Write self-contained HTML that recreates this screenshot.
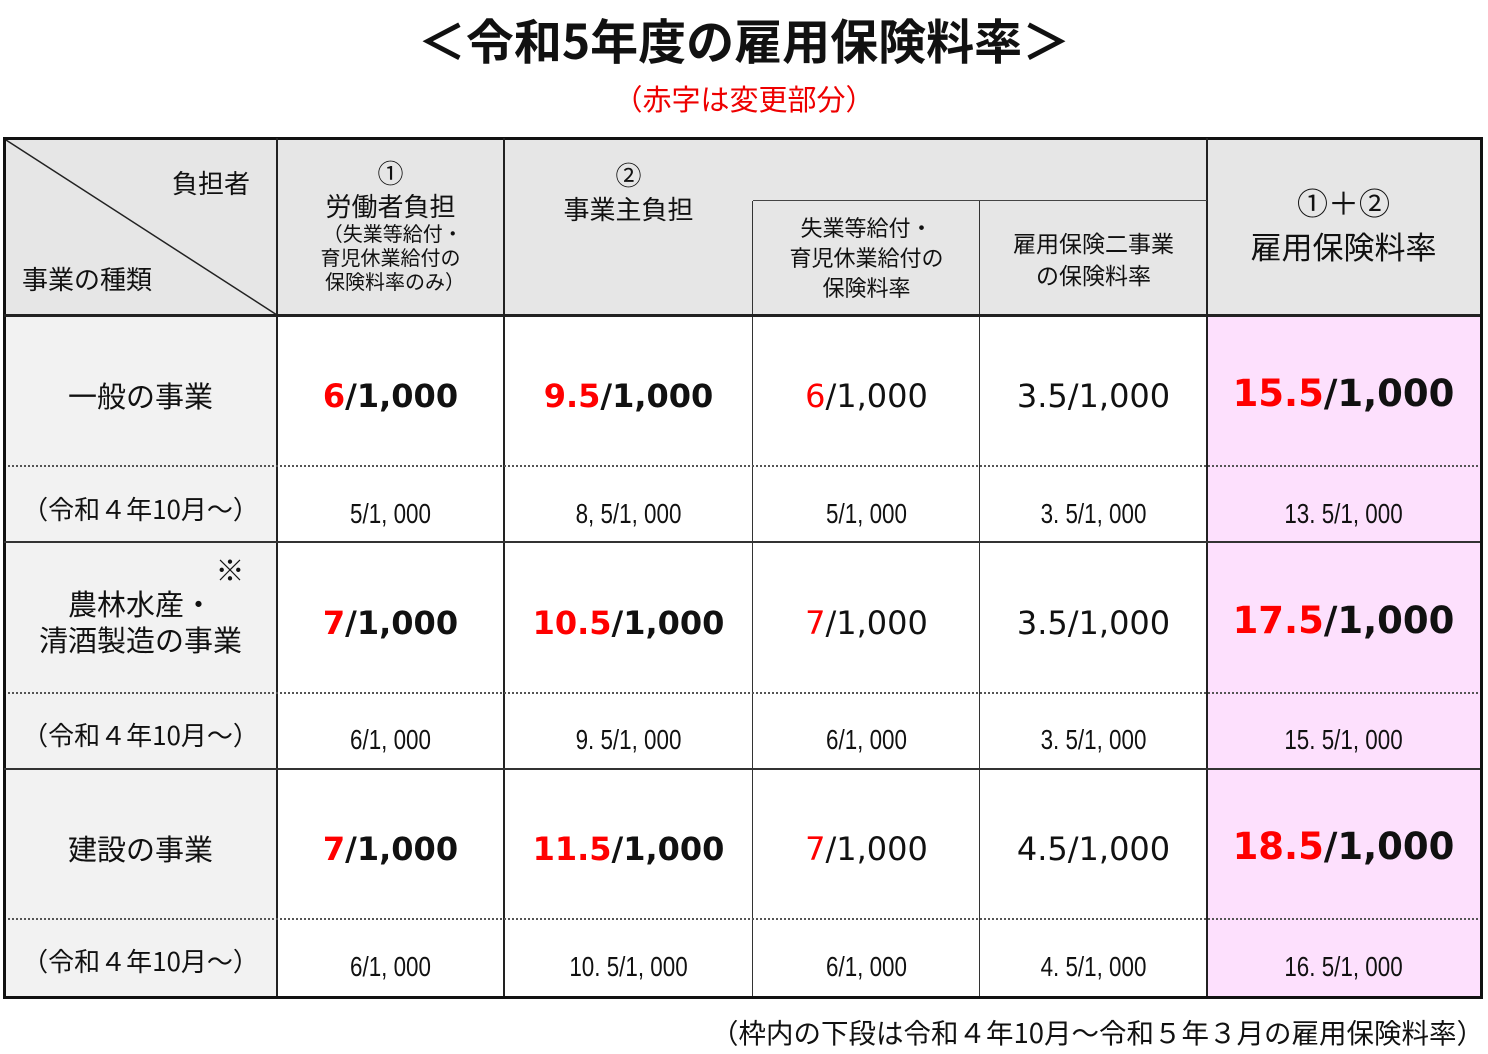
<!DOCTYPE html>
<html><head><meta charset="utf-8"><style>
body{margin:0;width:1488px;height:1054px;background:#fff;position:relative;overflow:hidden;font-family:"Liberation Sans","Noto Sans CJK JP",sans-serif;color:#111}
.a{position:absolute}
.t{position:absolute;text-align:center;white-space:nowrap}
.r{color:#f00}
.big{font-family:"DejaVu Sans",sans-serif;font-weight:bold;font-size:32px}
.pk{font-family:"DejaVu Sans",sans-serif;font-weight:bold;font-size:37px}
.mid{font-family:"DejaVu Sans",sans-serif;font-size:32px}
.sm{font-size:28px;transform:scaleX(0.8)}
.lab{font-size:29px;font-family:"Noto Sans CJK JP",sans-serif}
.h{font-family:"Noto Sans CJK JP",sans-serif}
.dot{position:absolute;height:0;border-top:2px dotted #555}
</style></head><body>
<div class="t h" style="left:0;width:1488px;top:6px;font-size:48px;font-weight:bold;line-height:64px">＜令和5年度の雇用保険料率＞</div>
<div class="t h" style="left:0;width:1488px;top:78px;font-size:29px;color:#e00;line-height:40px">（赤字は変更部分）</div>

<div class="a" style="left:4px;top:138px;width:1476px;height:177px;background:#e6e6e6"></div>
<div class="a" style="left:4px;top:315px;width:273px;height:681px;background:#f2f2f2"></div>
<div class="a" style="left:1207px;top:315px;width:273px;height:681px;background:#fde0fd"></div>

<svg class="a" style="left:0;top:0" width="1488" height="1054"><line x1="6" y1="140" x2="277" y2="315" stroke="#222" stroke-width="1.5"/></svg>

<div class="a" style="left:3px;top:137px;width:1474px;height:856px;border:3px solid #111"></div>
<div class="a" style="left:276px;top:138px;width:2px;height:858px;background:#222"></div>
<div class="a" style="left:503px;top:138px;width:2px;height:858px;background:#222"></div>
<div class="a" style="left:1206px;top:138px;width:2px;height:858px;background:#222"></div>
<div class="a" style="left:752px;top:201px;width:1px;height:795px;background:#333"></div>
<div class="a" style="left:979px;top:201px;width:1px;height:795px;background:#333"></div>
<div class="a" style="left:753px;top:200px;width:454px;height:1px;background:#444"></div>
<div class="a" style="left:4px;top:314px;width:1476px;height:3px;background:#222"></div>
<div class="a" style="left:4px;top:541px;width:1476px;height:1.5px;background:#333"></div>
<div class="a" style="left:4px;top:768px;width:1476px;height:1.5px;background:#333"></div>
<div class="dot" style="left:8px;top:465px;width:1470px"></div>
<div class="dot" style="left:8px;top:692px;width:1470px"></div>
<div class="dot" style="left:8px;top:918px;width:1470px"></div>

<div class="t h" style="left:172px;top:166px;font-size:26px;line-height:34px;text-align:left">負担者</div>
<div class="t h" style="left:10px;width:170px;top:262px;font-size:26px;line-height:34px;text-align:left;padding-left:12px">事業の種類</div>
<div class="t h" style="left:277px;width:227px;top:156px;font-size:26px;line-height:33px">①<br>労働者負担</div>
<div class="t h" style="left:277px;width:227px;top:221px;font-size:20px;line-height:24px">&nbsp;（失業等給付・<br>育児休業給付の<br>&nbsp;&nbsp;保険料率のみ）</div>
<div class="t h" style="left:504px;width:249px;top:158px;font-size:26px;line-height:34px">②<br>事業主負担</div>
<div class="t h" style="left:753px;width:227px;top:212px;font-size:22px;line-height:30px">失業等給付・<br>育児休業給付の<br>保険料率</div>
<div class="t h" style="left:980px;width:227px;top:226px;font-size:23px;line-height:32px">雇用保険二事業<br>の保険料率</div>
<div class="t h" style="left:1207px;width:273px;top:180px;font-size:31px;line-height:44px">①＋②<br>雇用保険料率</div>

<div class="t lab" style="left:4px;width:273px;top:375px;line-height:40px">一般の事業</div>
<div class="t lab" style="left:4px;width:273px;top:490px;font-size:26px;line-height:38px">（令和４年10月～）</div>
<div class="t lab" style="left:180px;width:100px;top:552px;line-height:34px">※</div>
<div class="t lab" style="left:4px;width:273px;top:585px;line-height:36px">農林水産・<br>清酒製造の事業</div>
<div class="t lab" style="left:4px;width:273px;top:716px;font-size:26px;line-height:38px">（令和４年10月～）</div>
<div class="t lab" style="left:4px;width:273px;top:828px;line-height:40px">建設の事業</div>
<div class="t lab" style="left:4px;width:273px;top:942px;font-size:26px;line-height:38px">（令和４年10月～）</div>

<div class="t big" style="left:277px;width:227px;top:374px;line-height:44px"><span class="r">6</span>/1,000</div>
<div class="t big" style="left:504px;width:249px;top:374px;line-height:44px"><span class="r">9.5</span>/1,000</div>
<div class="t mid" style="left:753px;width:227px;top:374px;line-height:44px"><span class="r">6</span>/1,000</div>
<div class="t mid" style="left:980px;width:227px;top:374px;line-height:44px">3.5/1,000</div>
<div class="t pk" style="left:1207px;width:273px;top:372px;line-height:44px"><span class="r">15.5</span>/1,000</div>
<div class="t sm" style="left:277px;width:227px;top:497px;line-height:34px">5/1, 000</div>
<div class="t sm" style="left:504px;width:249px;top:497px;line-height:34px">8, 5/1, 000</div>
<div class="t sm" style="left:753px;width:227px;top:497px;line-height:34px">5/1, 000</div>
<div class="t sm" style="left:980px;width:227px;top:497px;line-height:34px">3. 5/1, 000</div>
<div class="t sm" style="left:1207px;width:273px;top:497px;line-height:34px">13. 5/1, 000</div>

<div class="t big" style="left:277px;width:227px;top:601px;line-height:44px"><span class="r">7</span>/1,000</div>
<div class="t big" style="left:504px;width:249px;top:601px;line-height:44px"><span class="r">10.5</span>/1,000</div>
<div class="t mid" style="left:753px;width:227px;top:601px;line-height:44px"><span class="r">7</span>/1,000</div>
<div class="t mid" style="left:980px;width:227px;top:601px;line-height:44px">3.5/1,000</div>
<div class="t pk" style="left:1207px;width:273px;top:599px;line-height:44px"><span class="r">17.5</span>/1,000</div>
<div class="t sm" style="left:277px;width:227px;top:723px;line-height:34px">6/1, 000</div>
<div class="t sm" style="left:504px;width:249px;top:723px;line-height:34px">9. 5/1, 000</div>
<div class="t sm" style="left:753px;width:227px;top:723px;line-height:34px">6/1, 000</div>
<div class="t sm" style="left:980px;width:227px;top:723px;line-height:34px">3. 5/1, 000</div>
<div class="t sm" style="left:1207px;width:273px;top:723px;line-height:34px">15. 5/1, 000</div>

<div class="t big" style="left:277px;width:227px;top:827px;line-height:44px"><span class="r">7</span>/1,000</div>
<div class="t big" style="left:504px;width:249px;top:827px;line-height:44px"><span class="r">11.5</span>/1,000</div>
<div class="t mid" style="left:753px;width:227px;top:827px;line-height:44px"><span class="r">7</span>/1,000</div>
<div class="t mid" style="left:980px;width:227px;top:827px;line-height:44px">4.5/1,000</div>
<div class="t pk" style="left:1207px;width:273px;top:825px;line-height:44px"><span class="r">18.5</span>/1,000</div>
<div class="t sm" style="left:277px;width:227px;top:950px;line-height:34px">6/1, 000</div>
<div class="t sm" style="left:504px;width:249px;top:950px;line-height:34px">10. 5/1, 000</div>
<div class="t sm" style="left:753px;width:227px;top:950px;line-height:34px">6/1, 000</div>
<div class="t sm" style="left:980px;width:227px;top:950px;line-height:34px">4. 5/1, 000</div>
<div class="t sm" style="left:1207px;width:273px;top:950px;line-height:34px">16. 5/1, 000</div>

<div class="t h" style="right:4px;top:1011px;font-size:27.5px;line-height:40px;text-align:right">（枠内の下段は令和４年10月～令和５年３月の雇用保険料率）</div>
</body></html>
